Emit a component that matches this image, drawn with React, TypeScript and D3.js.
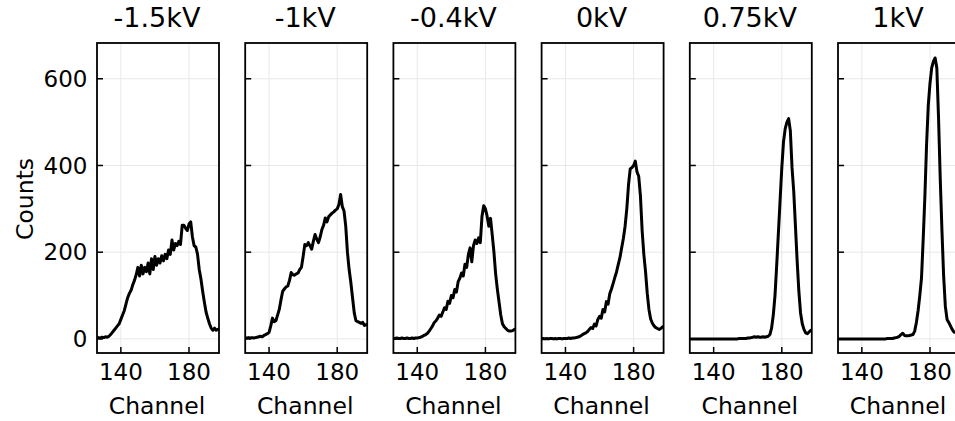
import React from "react";
import * as d3 from "d3";

const TITLES = ["-1.5kV", "-1kV", "-0.4kV", "0kV", "0.75kV", "1kV"];
const CHANNEL_START = 126;
const X_TICKS = [140, 180];
const Y_TICKS = [0, 200, 400, 600];

const S_M15 = [
  2, 3, 2, 4, 3, 5, 4, 6, 10, 15,
  20, 25, 30, 35, 45, 55, 65, 80, 95, 105,
  112, 125, 135, 148, 165, 145, 170, 150, 165, 155,
  175, 150, 185, 160, 190, 170, 185, 175, 192, 180,
  195, 185, 205, 195, 228, 205, 220, 215, 225, 218,
  262, 262, 255, 250, 265, 270, 235, 215, 212, 195,
  160, 138, 110, 85, 62, 48, 35, 25, 20, 25,
  20, 22, 22,
];
const S_M10 = [
  2, 2, 3, 2, 3, 2, 3, 4, 5, 6,
  5, 8, 10, 12, 15, 30, 48, 40, 42, 55,
  68, 90, 110, 115, 120, 122, 135, 153, 148, 147,
  150, 152, 160, 165, 190, 218, 215, 222, 215, 207,
  225, 241, 230, 222, 235, 252, 262, 279, 270, 282,
  286, 290, 293, 297, 300, 310, 333, 305, 295, 260,
  200, 160, 130, 95, 60, 42, 40, 38, 36, 38,
  31, 33, 33,
];
const S_M04 = [
  1, 1, 2, 1, 1, 2, 1, 1, 2, 1,
  1, 2, 1, 2, 2, 3, 4, 6, 8, 10,
  13, 18, 24, 30, 38, 42, 48, 55, 52, 62,
  72, 68, 87, 82, 100, 95, 114, 108, 132, 140,
  152, 145, 172, 165, 195, 210, 178, 215, 228, 220,
  233, 222, 283, 307, 300, 283, 260, 278, 240, 200,
  150, 115, 85, 55, 35, 28, 24, 20, 18, 18,
  19, 22, 22,
];
const S_0 = [
  0, 1, 0, 1, 0, 1, 1, 0, 1, 0,
  1, 1, 0, 1, 1, 1, 2, 1, 2, 2,
  3, 4, 5, 7, 10, 12, 14, 17, 22, 26,
  24, 34, 30, 45, 52, 48, 68, 62, 86, 80,
  104, 115, 128, 142, 155, 172, 188, 210, 232, 260,
  300, 355, 392, 395, 400, 410, 385, 375, 330, 250,
  195, 155, 105, 68, 46, 36, 30, 26, 24, 22,
  24, 28, 28,
];
const S_075 = [
  0, 0, 0, 0, 0, 0, 0, 0, 0, 0,
  0, 0, 0, 0, 0, 0, 0, 0, 0, 0,
  0, 0, 0, 0, 0, 0, 0, 0, 0, 1,
  1, 1, 1, 1, 2, 2, 3, 4, 5, 4,
  5, 4, 4, 5, 4, 5, 6, 10, 25, 55,
  100, 170, 245, 320, 395, 455, 485, 500, 508, 480,
  395, 340, 260, 180, 110, 60, 35, 22, 14, 12,
  16, 20, 20,
];
const S_10 = [
  0, 0, 0, 0, 0, 0, 0, 0, 0, 0,
  0, 0, 0, 0, 0, 0, 0, 0, 0, 0,
  0, 0, 0, 0, 0, 0, 0, 0, 0, 1,
  1, 1, 1, 2, 3, 4, 6, 10, 13, 8,
  7, 7, 8, 9, 10, 18, 38, 65, 100, 140,
  230, 330, 450, 540, 590, 625, 640, 648, 625, 510,
  370, 250, 145, 75, 45, 38, 30, 22, 16, 15,
  16, 18, 18,
];
const SERIES = [S_M15, S_M10, S_M04, S_0, S_075, S_10];

const FONT = "DejaVu Sans, sans-serif";
const LEFT0 = 97;
const STEP = 148.2;
const PW = 122;
const TOP = 43;
const PH = 310;

export default function App() {
  const y = d3.scaleLinear().domain([-32.5, 682.5]).range([TOP + PH, TOP]);
  return (
    <svg
      width={955}
      height={421}
      style={{ position: "absolute", left: 0, top: 0, background: "#fff" }}
      fontFamily={FONT}
    >
      <rect x={0} y={0} width={955} height={421} fill="#fff" />
      {SERIES.map((vals, i) => {
        const left = LEFT0 + i * STEP;
        const x = d3.scaleLinear().domain([126, 197.6]).range([left, left + PW]);
        const line = d3
          .line<number>()
          .x((_, k) => x(CHANNEL_START + k))
          .y((v) => y(v));
        const cx = left + PW / 2;
        return (
          <g key={i}>
            <defs>
              <clipPath id={`clip${i}`}>
                <rect x={left} y={TOP} width={PW} height={PH} />
              </clipPath>
            </defs>
            {X_TICKS.map((t) => (
              <line key={"gx" + t} x1={x(t)} x2={x(t)} y1={TOP} y2={TOP + PH} stroke="#e8e8e8" strokeWidth={1} />
            ))}
            {Y_TICKS.map((t) => (
              <line key={"gy" + t} x1={left} x2={left + PW} y1={y(t)} y2={y(t)} stroke="#e8e8e8" strokeWidth={1} />
            ))}
            <path
              d={line(vals) || ""}
              fill="none"
              stroke="#000"
              strokeWidth={3}
              strokeLinejoin="round"
              clipPath={`url(#clip${i})`}
            />
            <rect x={left} y={TOP} width={PW} height={PH} fill="none" stroke="#000" strokeWidth={1.8} />
            {X_TICKS.map((t) => (
              <g key={"tx" + t}>
                <line x1={x(t)} x2={x(t)} y1={TOP + PH} y2={TOP + PH - 6} stroke="#000" strokeWidth={1.5} />
                <text x={x(t)} y={379.5} textAnchor="middle" fontSize={23}>
                  {t}
                </text>
              </g>
            ))}
            {Y_TICKS.map((t) => (
              <g key={"ty" + t}>
                <line x1={left} x2={left + 6} y1={y(t)} y2={y(t)} stroke="#000" strokeWidth={1.5} />
                {i === 0 && (
                  <text x={87.5} y={y(t) + 8.2} textAnchor="end" fontSize={23}>
                    {t}
                  </text>
                )}
              </g>
            ))}
            <text x={cx - 1} y={26.5} textAnchor="middle" fontSize={27}>
              {TITLES[i]}
            </text>
            <text x={cx - 1} y={414} textAnchor="middle" fontSize={23.5}>
              Channel
            </text>
          </g>
        );
      })}
      <text transform="translate(33,199) rotate(-90)" textAnchor="middle" fontSize={23.5}>
        Counts
      </text>
    </svg>
  );
}
